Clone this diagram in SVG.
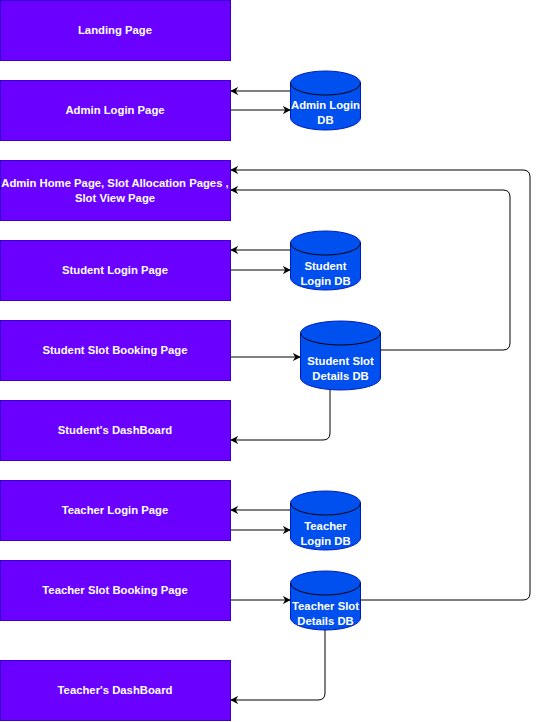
<svg xmlns="http://www.w3.org/2000/svg" width="540" height="722" viewBox="0 0 540 722">
<style>
.box{fill:#6a00ff;stroke:#3700cc;stroke-width:1}
.db{fill:#0050ef;stroke:#001dbc;stroke-width:1}
.t{font-family:"Liberation Sans",Arial,sans-serif;font-size:11.3px;font-weight:bold;fill:#ffffff;text-anchor:middle}
.c{fill:none;stroke:#000000;stroke-width:1}
</style>
<defs>
<marker id="a" viewBox="0 0 10 10" refX="9" refY="5" markerWidth="8" markerHeight="8" orient="auto" markerUnits="userSpaceOnUse">
<path d="M0,0 L10,5 L0,10 L3,5 Z" fill="#000"/>
</marker>
</defs>
<rect width="540" height="722" fill="#ffffff"/>
<g id="landing"><rect class="box" x="0.5" y="0.5" width="230" height="60"/><text class="t" x="115" y="34">Landing Page</text></g>
<g id="adminLogin"><rect class="box" x="0.5" y="80.5" width="230" height="60"/><text class="t" x="115" y="114">Admin Login Page</text></g>
<g id="adminHome"><rect class="box" x="0.5" y="160.5" width="230" height="60"/><text class="t" x="115" y="187">Admin Home Page, Slot Allocation Pages ,</text><text class="t" x="115" y="202">Slot View Page</text></g>
<g id="studentLogin"><rect class="box" x="0.5" y="240.5" width="230" height="60"/><text class="t" x="115" y="274">Student Login Page</text></g>
<g id="studentBooking"><rect class="box" x="0.5" y="320.5" width="230" height="60"/><text class="t" x="115" y="354">Student Slot Booking Page</text></g>
<g id="studentDash"><rect class="box" x="0.5" y="400.5" width="230" height="60"/><text class="t" x="115" y="434">Student's DashBoard</text></g>
<g id="teacherLogin"><rect class="box" x="0.5" y="480.5" width="230" height="60"/><text class="t" x="115" y="514">Teacher Login Page</text></g>
<g id="teacherBooking"><rect class="box" x="0.5" y="560.5" width="230" height="60"/><text class="t" x="115" y="594">Teacher Slot Booking Page</text></g>
<g id="teacherDash"><rect class="box" x="0.5" y="660.5" width="230" height="60"/><text class="t" x="115" y="694">Teacher's DashBoard</text></g>

<g id="adminDB"><path class="db" d="M290.5,83 A35,12 0 0 1 360.5,83 L360.5,118 A35,12 0 0 1 290.5,118 Z"/><path class="c" d="M290.5,83 A35,12 0 0 0 360.5,83" stroke="#001dbc"/><text class="t" x="325.5" y="109">Admin Login</text><text class="t" x="325.5" y="124">DB</text></g>
<g id="studentLoginDB"><path class="db" d="M290.5,243 A35,12 0 0 1 360.5,243 L360.5,278 A35,12 0 0 1 290.5,278 Z"/><path class="c" d="M290.5,243 A35,12 0 0 0 360.5,243" stroke="#001dbc"/><text class="t" x="325.5" y="270">Student</text><text class="t" x="325.5" y="285">Login DB</text></g>
<g id="studentSlotDB"><path class="db" d="M300.5,333 A40,12 0 0 1 380.5,333 L380.5,378 A40,12 0 0 1 300.5,378 Z"/><path class="c" d="M300.5,333 A40,12 0 0 0 380.5,333" stroke="#001dbc"/><text class="t" x="340.5" y="365">Student Slot</text><text class="t" x="340.5" y="380">Details DB</text></g>
<g id="teacherLoginDB"><path class="db" d="M290.5,503 A35,12 0 0 1 360.5,503 L360.5,538 A35,12 0 0 1 290.5,538 Z"/><path class="c" d="M290.5,503 A35,12 0 0 0 360.5,503" stroke="#001dbc"/><text class="t" x="325.5" y="530">Teacher</text><text class="t" x="325.5" y="545">Login DB</text></g>
<g id="teacherSlotDB"><path class="db" d="M290.5,583 A35,12 0 0 1 360.5,583 L360.5,618 A35,12 0 0 1 290.5,618 Z"/><path class="c" d="M290.5,583 A35,12 0 0 0 360.5,583" stroke="#001dbc"/><text class="t" x="325.5" y="610">Teacher Slot</text><text class="t" x="325.5" y="625">Details DB</text></g>

<g id="connectors">
<path class="c" d="M290,91 L231,91" marker-end="url(#a)"/>
<path class="c" d="M231,110 L290,110" marker-end="url(#a)"/>
<path class="c" d="M290,250 L231,250" marker-end="url(#a)"/>
<path class="c" d="M231,270 L290,270" marker-end="url(#a)"/>
<path class="c" d="M231,357 L300,357" marker-end="url(#a)"/>
<path class="c" d="M380,350 L503,350 Q510,350 510,343 L510,197 Q510,190 503,190 L231,190" marker-end="url(#a)"/>
<path class="c" d="M360,600 L523,600 Q530,600 530,593 L530,177 Q530,170 523,170 L231,170" marker-end="url(#a)"/>
<path class="c" d="M330,390 L330,433 Q330,440 323,440 L231,440" marker-end="url(#a)"/>
<path class="c" d="M290,510 L231,510" marker-end="url(#a)"/>
<path class="c" d="M231,530 L290,530" marker-end="url(#a)"/>
<path class="c" d="M231,600 L290,600" marker-end="url(#a)"/>
<path class="c" d="M325,630 L325,693 Q325,700 318,700 L231,700" marker-end="url(#a)"/>
</g>
</svg>
